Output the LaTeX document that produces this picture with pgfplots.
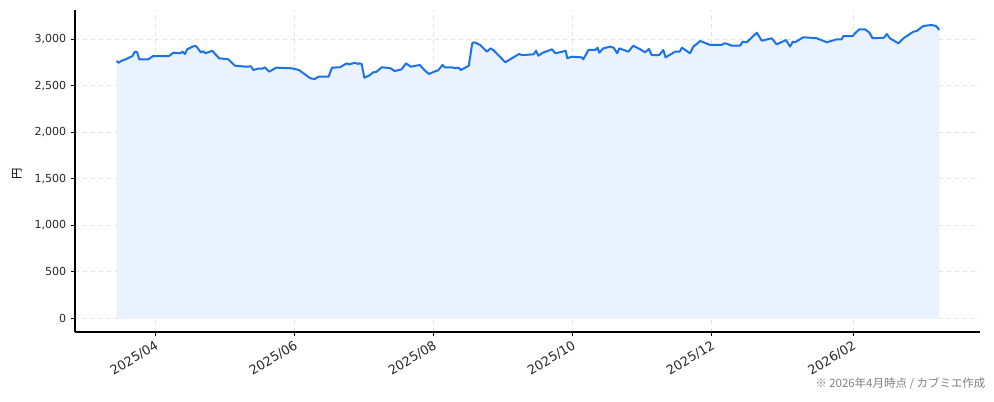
\documentclass[border=0pt]{standalone}
\usepackage{fontspec}
\setmainfont{DejaVu Sans}
\newfontfamily\jp{Noto Sans CJK JP}
\usepackage{pgfplots}
\pgfplotsset{compat=1.18}
\definecolor{lineblue}{RGB}{26,115,232}
\definecolor{fillblue}{RGB}{234,242,253}
\definecolor{ticktext}{RGB}{40,40,40}

\begin{document}
\begin{tikzpicture}
\path[use as bounding box] (-56.25pt,-51.75pt) rectangle (689.25pt,249pt);
\begin{axis}[
    at={(0pt,0pt)}, anchor=south west,
    scale only axis,
    width=678.75pt, height=241.5pt,
    xmin=-35.2, xmax=361.7,
    ymin=-147, ymax=3315,
    axis x line*=bottom, axis y line*=left,
    axis line style={line width=0.8pt, black},
    xtick={0,61,122,183,244,306},
    xticklabels={2025/04,2025/06,2025/08,2025/10,2025/12,2026/02},
    ytick={0,500,1000,1500,2000,2500,3000},
    tick align=outside, major tick length=3pt,
    tick style={black, line width=0.6pt},
    xticklabel style={rotate=31, anchor=north east, font=\fontsize{9.6}{11}\selectfont, text=ticktext, inner sep=2pt},
    yticklabel style={font=\fontsize{8.3}{10}\selectfont, text=ticktext},
    /pgf/number format/.cd, 1000 sep={,}, assume math mode=true,
    /pgfplots/.cd,
    grid=major,
    grid style={dashed, gray!22, line width=0.5pt},
    ylabel={\jp 円},
    ylabel style={at={(axis description cs:-0.064,0.49)}, anchor=center, font=\fontsize{8.5}{10}\selectfont},
]
\pgfplotstableread{
d v
-17 2767
-16 2748
-15 2767
-13 2785
-10 2820
-9 2867
-8 2863
-7 2785
-3 2785
-1 2820
6 2820
8 2856
11 2850
12 2867
13 2842
14 2892
17 2928
18 2925
20 2860
21 2871
22 2850
25 2877
28 2796
32 2785
35 2716
40 2705
42 2710
43 2670
45 2684
47 2684
48 2699
50 2652
53 2695
60 2688
63 2670
68 2581
70 2573
71.5 2598
76 2598
77.5 2695
81 2699
84 2742
85 2730
87.5 2748
89 2735
89.5 2742
90.5 2735
91.7 2587
94 2613
95.6 2645
97 2650
99.3 2699
103 2691
105 2659
108 2677
110 2742
112 2705
116 2724
118 2670
120 2627
123 2659
124 2665
126 2724
127 2699
130 2699
131.5 2690
133 2695
134 2670
137.5 2716
139 2957
140 2968
142.5 2939
145.5 2867
147 2903
148.5 2880
153.5 2753
159.5 2842
161 2830
166 2839
167 2877
168 2824
170 2856
174 2892
175.5 2850
178 2864
180 2877
180.7 2796
182.6 2813
187 2806
187.7 2785
190 2885
193 2885
194 2910
194.7 2856
196.5 2903
199.5 2921
201 2910
202.6 2850
203.5 2903
207.5 2867
209.6 2931
212.5 2895
214.8 2860
216.5 2896
217.7 2831
221 2831
222.8 2885
223.8 2806
228 2867
230 2867
231 2910
234.5 2850
236 2921
239 2982
243.3 2939
248.4 2939
249.6 2957
251 2950
252.8 2931
256.5 2931
257.6 2975
259.4 2968
263.8 3071
266 2985
270.4 3011
272.5 2946
276.6 2992
278.4 2921
279.6 2975
280.6 2968
284.2 3022
290.1 3011
294.5 2968
298.9 3000
301 3000
301.8 3035
305.9 3035
306.9 3065
308.8 3108
311.3 3108
313.2 3071
314.6 3011
319.6 3017
320.8 3057
322.2 3011
325.9 2957
328.1 3011
332.5 3082
334 3090
336.8 3143
340.5 3154
342.4 3143
343.9 3100
}\price
\addplot[draw=none, fill=fillblue] table[x=d, y=v]{\price} \closedcycle;
\addplot[lineblue, line width=1.5pt, line join=round] table[x=d, y=v]{\price};
\end{axis}
\node[anchor=east, text=gray, font=\jp\fontsize{8.6}{10}\selectfont, inner sep=0pt] at (683pt,-39pt) {※ 2026年4月時点 / カブミエ作成};
\end{tikzpicture}
\end{document}
